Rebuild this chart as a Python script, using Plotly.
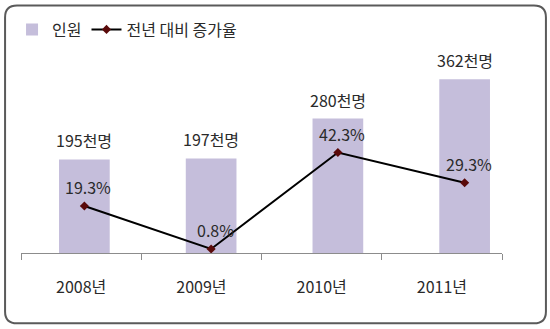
import plotly.graph_objects as go

years = ["2008년", "2009년", "2010년", "2011년"]
people = [195, 197, 280, 362]          # 천명
growth = [19.3, 0.8, 42.3, 29.3]       # %
people_labels = ["195천명", "197천명", "280천명", "362천명"]
growth_labels = ["19.3%", "0.8%", "42.3%", "29.3%"]

W, H = 550, 329
ML, MR, MT, MB = 19, 22, 59, 76
PW, PH = W - ML - MR, H - MT - MB
FONT = "Noto Sans CJK KR, Malgun Gothic, sans-serif"

fig = go.Figure()

# invisible trace to host the category axis with ticks/labels
fig.add_trace(go.Scatter(x=years, y=[None] * 4, xaxis="x", yaxis="y",
                         showlegend=False, hoverinfo="skip", mode="markers"))

fig.add_trace(go.Bar(x=years, y=people, name="인원", xaxis="x2", yaxis="y",
                     marker=dict(color="#C5BEDB", line=dict(width=0)),
                     width=0.4))
fig.add_trace(go.Scatter(x=years, y=growth, name="전년 대비 증가율",
                         xaxis="x2", yaxis="y2", mode="lines+markers",
                         line=dict(color="#000000", width=2),
                         marker=dict(symbol="diamond", size=7, color="#5A0A0A")))

for xv, yv, t in zip(years, people, people_labels):
    fig.add_annotation(x=xv, y=yv, xref="x2", yref="y", text=t, showarrow=False,
                       yanchor="bottom", yshift=5,
                       font=dict(size=16, color="#2a2a2a", family=FONT))
for xv, yv, t in zip(years, growth, growth_labels):
    fig.add_annotation(x=xv, y=yv, xref="x2", yref="y2", text=t, showarrow=False,
                       yanchor="middle", yshift=19, xshift=4,
                       font=dict(size=16, color="#2a2a2a", family=FONT))

# rounded border (pixel -> paper conversion)
def px(xp):
    return (xp - ML) / PW
def py(yp):
    return (H - MB - yp) / PH
x0, x1, y0, y1, r = 3, 546, 3, 324, 12
path = (f"M {px(x0 + r)},{py(y0)} L {px(x1 - r)},{py(y0)} "
        f"Q {px(x1)},{py(y0)} {px(x1)},{py(y0 + r)} "
        f"L {px(x1)},{py(y1 - r)} Q {px(x1)},{py(y1)} {px(x1 - r)},{py(y1)} "
        f"L {px(x0 + r)},{py(y1)} Q {px(x0)},{py(y1)} {px(x0)},{py(y1 - r)} "
        f"L {px(x0)},{py(y0 + r)} Q {px(x0)},{py(y0)} {px(x0 + r)},{py(y0)} Z")
fig.add_shape(type="path", path=path, xref="paper", yref="paper",
              line=dict(color="#5a5a5a", width=2), layer="below")

fig.update_layout(
    width=W, height=H,
    margin=dict(l=ML, r=MR, t=MT, b=MB),
    paper_bgcolor="white", plot_bgcolor="white",
    font=dict(family=FONT, size=15, color="#2a2a2a"),
    showlegend=True,
    legend=dict(orientation="h", x=px(10), y=py(10), xanchor="left", yanchor="top",
                font=dict(size=16, family=FONT, color="#2a2a2a"),
                itemwidth=30, tracegroupgap=0, bgcolor="rgba(0,0,0,0)"),
    bargap=0.6,
    xaxis=dict(type="category", categoryarray=years, range=[-0.5, 3.5],
               domain=[0, (502 - ML) / PW], anchor="y",
               showline=True, linecolor="#8c8c8c", linewidth=1,
               ticks="outside", tickson="boundaries", ticklen=6,
               tickcolor="#8c8c8c", tickwidth=1, ticklabelstandoff=20,
               tickfont=dict(size=16, color="#2a2a2a", family=FONT),
               showgrid=False, zeroline=False, fixedrange=True),
    xaxis2=dict(type="category", categoryarray=years, range=[-0.5, 3.5],
                domain=[0, 1], anchor="y", visible=False),
    yaxis=dict(range=[0, 400], visible=False, showgrid=False, zeroline=False,
               anchor="x"),
    yaxis2=dict(range=[-0.94, 81.7], overlaying="y", side="right",
                visible=False, showgrid=False, zeroline=False),
)

fig.write_html("out.html")
